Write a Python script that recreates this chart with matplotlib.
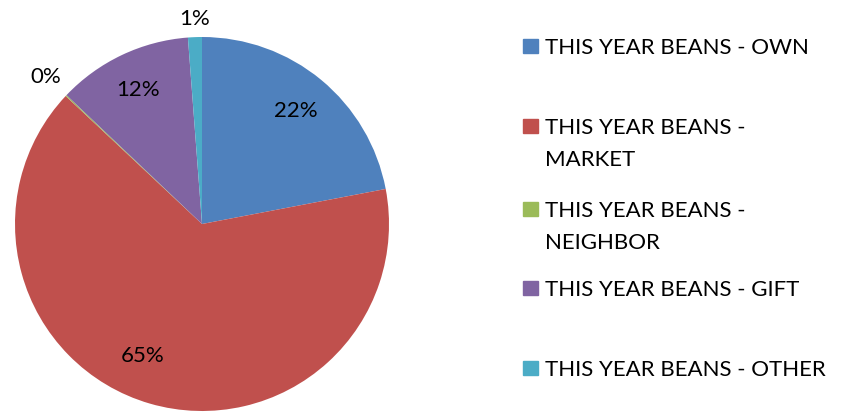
import numpy as np
import matplotlib
matplotlib.use("Agg")
import matplotlib.pyplot as plt
from matplotlib.patches import Rectangle

plt.rcParams['font.family'] = ['Lato', 'DejaVu Sans']

# slice data, clockwise from 12 o'clock
categories = [
    "THIS YEAR BEANS - OWN",
    "THIS YEAR BEANS - MARKET",
    "THIS YEAR BEANS - NEIGHBOR",
    "THIS YEAR BEANS - GIFT",
    "THIS YEAR BEANS - OTHER",
]
legend_labels = [
    "THIS YEAR BEANS - OWN",
    "THIS YEAR BEANS -\nMARKET",
    "THIS YEAR BEANS -\nNEIGHBOR",
    "THIS YEAR BEANS - GIFT",
    "THIS YEAR BEANS - OTHER",
]
shares = [22.0, 65.0, 0.1, 11.7, 1.2]
pct_labels = ["22%", "65%", "0%", "12%", "1%"]
colors = ["#4F81BD", "#C0504D", "#9BBB59", "#8064A2", "#4BACC6"]

# label placement (radius in pie units, extra rotation in degrees)
label_dist = [0.79, 0.77, 1.15, 0.80, 1.10]
label_rot = [0, -8, 0, 0, 0]

fig = plt.figure(figsize=(8.5, 4.14), dpi=100)
ax = fig.add_axes([15 / 850, 2 / 414, 374 / 850, 374 / 414])

wedges, _ = ax.pie(shares, colors=colors, startangle=90, counterclock=False,
                   radius=1.0, wedgeprops=dict(linewidth=0))
ax.set_xlim(-1, 1)
ax.set_ylim(-1, 1)
ax.set_aspect('equal')
ax.axis('off')

for w, lab, d, rot in zip(wedges, pct_labels, label_dist, label_rot):
    mid = np.deg2rad((w.theta1 + w.theta2) / 2 + rot)
    ax.text(d * np.cos(mid), d * np.sin(mid), lab, ha='center', va='center',
            fontsize=16, color='black', clip_on=False)

# legend drawn by hand to copy the uneven row spacing
row_y = [47, 127, 210, 289, 369]
for lab, col, y in zip(legend_labels, colors, row_y):
    fig.patches.append(Rectangle((523 / 850, 1 - (y + 7) / 414), 15 / 850, 14 / 414,
                                 transform=fig.transFigure, color=col))
    fig.text(545 / 850, 1 - (y - 9) / 414, lab, ha='left', va='top',
             fontsize=16, color='black', linespacing=1.75)

fig.savefig("out.png", dpi=100)
